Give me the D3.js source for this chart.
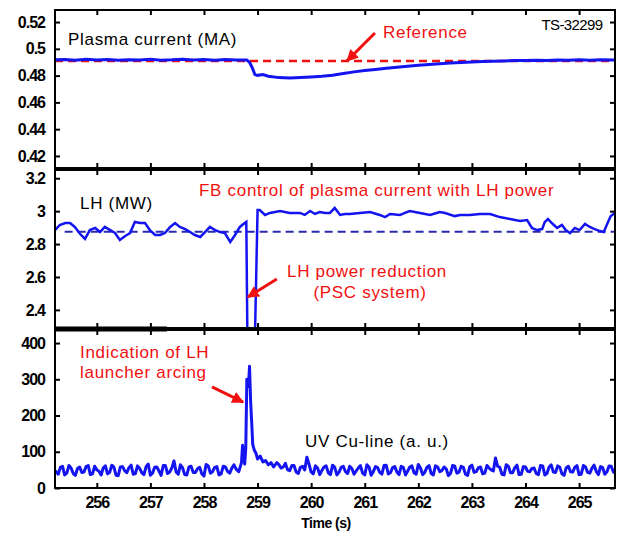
<!doctype html>
<html>
<head>
<meta charset="utf-8"/>
<title>TS-32299</title>
<script src="https://cdn.jsdelivr.net/npm/d3@7"></script>
<style>
body{margin:0;background:#fff;}
.tick text{font-family:"Liberation Sans",Arial,sans-serif;font-weight:bold;font-size:16px;letter-spacing:-1px;fill:#000;}
.lbl{font-family:"Liberation Sans",Arial,sans-serif;font-size:17px;letter-spacing:0.7px;}
</style>
</head>
<body>
<script>
// plasma current (MA)
var ipT = [255.22,255.4,255.6,255.8,256.0,256.2,256.4,256.6,256.8,257.0,257.2,257.4,257.6,257.8,258.0,258.2,258.4,258.6,258.8,258.85,258.9,258.95,259.0,259.1,259.2,259.4,259.6,259.8,260.0,260.2,260.4,260.6,260.8,261.0,261.2,261.4,261.6,261.8,262.0,262.2,262.4,262.6,262.8,263.0,263.2,263.4,263.6,263.8,264.0,264.2,264.4,264.6,264.8,265.0,265.2,265.4,265.67];
var ipV = [0.4918,0.4921,0.4915,0.4923,0.4916,0.4920,0.4914,0.4919,0.4916,0.4922,0.4915,0.4918,0.4923,0.4916,0.4920,0.4914,0.4921,0.4917,0.4916,0.4900,0.4860,0.4808,0.4802,0.4808,0.4795,0.4785,0.4782,0.4786,0.4790,0.4795,0.4803,0.4815,0.4828,0.4838,0.4846,0.4855,0.4863,0.4870,0.4877,0.4883,0.4889,0.4894,0.4898,0.4902,0.4905,0.4908,0.4910,0.4912,0.4913,0.4915,0.4912,0.4917,0.4914,0.4918,0.4915,0.4918,0.4917];
var ipRef = 0.4909;

// LH power (MW)
var lhT = [255.22,255.31,255.41,255.50,255.59,255.69,255.78,255.87,255.97,256.06,256.15,256.25,256.34,256.43,256.53,256.62,256.71,256.81,256.90,256.99,257.09,257.18,257.27,257.37,257.46,257.55,257.65,257.74,257.83,257.93,258.02,258.11,258.21,258.30,258.39,258.49,258.58,258.67,258.76,258.79,258.82,258.93,259.00,259.04,259.14,259.23,259.42,259.60,259.79,259.88,259.98,260.07,260.16,260.26,260.35,260.44,260.54,260.63,260.72,260.91,261.10,261.28,261.38,261.47,261.66,261.75,261.84,262.03,262.22,262.40,262.50,262.68,262.78,262.96,263.15,263.34,263.52,263.71,263.90,264.03,264.12,264.21,264.31,264.36,264.42,264.49,264.59,264.68,264.75,264.83,264.92,265.01,265.11,265.20,265.29,265.39,265.46,265.54,265.59,265.67];
var lhV = [2.885,2.916,2.928,2.928,2.904,2.861,2.831,2.885,2.898,2.873,2.904,2.885,2.867,2.825,2.849,2.867,2.934,2.928,2.928,2.885,2.855,2.855,2.867,2.904,2.928,2.904,2.891,2.873,2.855,2.843,2.873,2.904,2.885,2.873,2.867,2.813,2.855,2.904,2.928,2.935,1.9,1.9,3.007,3.007,2.977,2.989,3.001,2.989,2.989,2.977,3.001,2.983,2.995,2.989,2.989,3.019,2.977,2.983,2.983,2.989,2.995,2.977,2.964,2.983,2.977,2.989,3.001,2.989,2.977,2.995,2.989,2.970,2.977,2.977,2.983,2.983,2.964,2.952,2.940,2.946,2.898,2.885,2.891,2.934,2.952,2.928,2.898,2.916,2.885,2.867,2.898,2.885,2.922,2.904,2.891,2.879,2.873,2.934,2.970,2.989];
var lhRef = 2.875;

// UV Cu-line (a.u.): two interleaved baseline records, each sampled every 0.08 s
var uvStart = 255.2, uvStart2 = 255.24, uvStep = 0.08;
var uvBase = [52,38,60,41,55,35,58,44,62,39,50,36,61,43,57,34,59,42,63,40,
  54,37,66,41,58,35,62,44,75,38,56,36,60,43,57,33,61,45,59,39,
  58,41,64,60,60,60,60,60,60,60,60,60,70,55,68,48,62,40,60,85,
  44,61,37,58,42,63,36,57,45,60,38,55,41,64,35,59,43,62,39,56,
  44,60,36,58,42,65,37,57,40,61,45,58,34,62,41,60,38,59,43,56,
  39,62,50,83,57,36,60,42,63,38,58,45,55,37,61,40,64,43,57,35,
  60,44,62,38,58,41,63,37,56,45,60,40];
var uvBase2 = [45,57,36,62,40,54,43,59,37,60,46,55,39,63,35,58,48,56,38,61,
  42,59,35,57,47,62,40,55,44,64,37,58,43,53,39,65,41,57,36,60,
  46,55,40,60,60,60,60,60,60,60,60,60,64,58,50,62,44,57,50,66,
  39,55,48,61,37,57,44,60,40,54,47,62,36,58,45,56,38,63,42,59,
  37,57,46,61,38,55,43,62,36,58,48,53,40,60,44,57,35,63,45,58,
  41,55,47,60,38,64,42,56,37,59,46,54,40,62,36,58,44,61,39,56,
  45,57,37,62,43,55,46,59,38,61,44];
var uvSpikeT = [258.60,258.65,258.70,258.72,258.74,258.76,258.78,258.80,258.83,258.85,258.87,258.89,258.91,258.94,258.97,259.00,259.05,259.10,259.15,259.20,259.25,259.30];
var uvSpikeV = [52,45,70,118,95,66,110,300,280,336,240,182,120,104,96,80,88,72,76,64,70,58];

var xTicks = [256,257,258,259,260,261,262,263,264,265];
var ipTicks = [0.42,0.44,0.46,0.48,0.5,0.52];
var lhTicks = [2.4,2.6,2.8,3,3.2];
var uvTicks = [0,100,200,300,400];

var W = 619, H = 534, L = 55, R = 615;
var blue = "#1414f0", red = "#f01010";

var svg = d3.select("body").append("svg")
  .attr("width", W).attr("height", H);
svg.append("rect").attr("width", W).attr("height", H).attr("fill", "#fff");

var x = d3.scaleLinear().domain([255.22, 265.67]).range([L, R]);

var panels = [
  {top: 10, bot: 168, dom: [0.411, 0.529], ticks: ipTicks},
  {top: 170, bot: 328, dom: [2.29, 3.25], ticks: lhTicks},
  {top: 330, bot: 488, dom: [0, 436], ticks: uvTicks}
];
panels.forEach(function(p, i){
  p.y = d3.scaleLinear().domain(p.dom).range([p.bot, p.top]);
  svg.append("clipPath").attr("id", "clip" + i)
    .append("rect").attr("x", L).attr("y", p.top).attr("width", R - L).attr("height", p.bot - p.top);
});

var fmt = function(d){ return String(+d.toFixed(2)); };

function line(ts, vs, y){
  var pts = ts.map(function(t, i){ return [t, vs[i]]; });
  return d3.line().x(function(d){ return x(d[0]); }).y(function(d){ return y(d[1]); })(pts);
}

// --- panel 1: plasma current
var p1 = panels[0];
svg.append("line")
  .attr("x1", x(255.22)).attr("x2", x(265.67))
  .attr("y1", p1.y(ipRef)).attr("y2", p1.y(ipRef))
  .attr("stroke", red).attr("stroke-width", 2.5).attr("stroke-dasharray", "8,5");
svg.append("path").attr("d", line(ipT, ipV, p1.y))
  .attr("clip-path", "url(#clip0)")
  .attr("fill", "none").attr("stroke", blue).attr("stroke-width", 3);

// --- panel 2: LH power
var p2 = panels[1];
svg.append("line")
  .attr("x1", x(255.4)).attr("x2", x(265.67))
  .attr("y1", p2.y(lhRef)).attr("y2", p2.y(lhRef))
  .attr("stroke", "#2a2ab0").attr("stroke-width", 2).attr("stroke-dasharray", "8,5");
svg.append("path").attr("d", line(lhT, lhV, p2.y))
  .attr("clip-path", "url(#clip1)")
  .attr("fill", "none").attr("stroke", blue).attr("stroke-width", 2.5);

// --- panel 3: UV Cu-line
var p3 = panels[2];
var uvPts = [];
function addBase(arr, t0){
  arr.forEach(function(v, i){
    var t = t0 + i * uvStep;
    if (t < 258.58 || t > 259.32) uvPts.push([t, v]);
  });
}
addBase(uvBase, uvStart);
addBase(uvBase2, uvStart2);
uvSpikeT.forEach(function(t, i){ uvPts.push([t, uvSpikeV[i]]); });
uvPts.sort(function(a, b){ return a[0] - b[0]; });
svg.append("path")
  .attr("d", d3.line().x(function(d){ return x(d[0]); }).y(function(d){ return p3.y(d[1]); })(uvPts))
  .attr("clip-path", "url(#clip2)")
  .attr("fill", "none").attr("stroke", blue).attr("stroke-width", 3).attr("stroke-linejoin", "round");

// --- axes and frames
panels.forEach(function(p, i){
  var g = svg.append("g");
  g.append("g").attr("transform", "translate(" + L + ",0)")
    .call(d3.axisLeft(p.y).tickValues(p.ticks).tickFormat(fmt).tickSize(-5).tickPadding(10));
  g.append("g").attr("transform", "translate(" + R + ",0)")
    .call(d3.axisLeft(p.y).tickValues(p.ticks).tickFormat("").tickSize(5));
  g.append("g").attr("transform", "translate(0," + p.top + ")")
    .call(d3.axisBottom(x).tickValues(xTicks).tickFormat("").tickSize(5));
  g.append("g").attr("transform", "translate(0," + p.bot + ")")
    .call(d3.axisTop(x).tickValues(xTicks).tickFormat("").tickSize(5));
  g.selectAll(".domain").remove();
  g.selectAll(".tick line").attr("stroke", "#000").attr("stroke-width", 2);
  g.append("rect").attr("x", L).attr("y", p.top).attr("width", R - L).attr("height", p.bot - p.top)
    .attr("fill", "none").attr("stroke", "#000").attr("stroke-width", 2);
});
svg.append("line").attr("x1", L).attr("x2", 167).attr("y1", 329).attr("y2", 329)
  .attr("stroke", "#000").attr("stroke-width", 5);

var xa = svg.append("g").attr("transform", "translate(0," + p3.bot + ")")
  .call(d3.axisBottom(x).tickValues(xTicks).tickSize(0).tickPadding(9));
xa.select(".domain").remove();

svg.append("text").attr("x", 326).attr("y", 528).attr("text-anchor", "middle")
  .attr("font-family", "Liberation Sans, Arial, sans-serif").attr("font-weight", "bold")
  .attr("font-size", 14).attr("letter-spacing", "-0.5px").text("Time (s)");

// --- labels
function label(txt, px, py, color, anchor){
  return svg.append("text").attr("class", "lbl").attr("x", px).attr("y", py)
    .attr("fill", color).attr("text-anchor", anchor || "start").text(txt);
}
label("Plasma current (MA)", 68, 45, "#000").attr("letter-spacing", "1px");
label("LH (MW)", 80, 209, "#000").attr("letter-spacing", "1.2px");
label("UV Cu-line (a. u.)", 305, 447, "#000");
svg.append("text").attr("x", 572).attr("y", 30).attr("text-anchor", "middle")
  .attr("font-family", "Liberation Sans, Arial, sans-serif").attr("font-size", 15)
  .attr("letter-spacing", "-0.6px").text("TS-32299");

label("Reference", 383, 38, red);
label("FB control of plasma current with LH power", 199, 196, red).attr("letter-spacing", "0.4px");
label("LH power reduction", 367, 277, red, "middle");
label("(PSC system)", 370, 298, red, "middle");
label("Indication of LH", 80, 358, red).attr("letter-spacing", "0.4px");
label("launcher arcing", 80, 378, red).attr("letter-spacing", "0.4px");

// --- arrows
svg.append("defs").append("marker").attr("id", "head")
  .attr("viewBox", "0 0 10 10").attr("refX", 9).attr("refY", 5)
  .attr("markerWidth", 4).attr("markerHeight", 4).attr("orient", "auto")
  .append("path").attr("d", "M0,0L10,5L0,10z").attr("fill", red);

var arrows = [
  {p: p1, t0: 261.19, v0: 0.5118, t1: 260.67, v1: 0.491},
  {p: p2, t0: 259.36, v0: 2.588, t1: 258.82, v1: 2.478},
  {p: p3, t0: 258.15, v0: 279, t1: 258.73, v1: 237}
];
arrows.forEach(function(a){
  svg.append("line")
    .attr("x1", x(a.t0)).attr("y1", a.p.y(a.v0))
    .attr("x2", x(a.t1)).attr("y2", a.p.y(a.v1))
    .attr("stroke", red).attr("stroke-width", 3).attr("marker-end", "url(#head)");
});
</script>
</body>
</html>
